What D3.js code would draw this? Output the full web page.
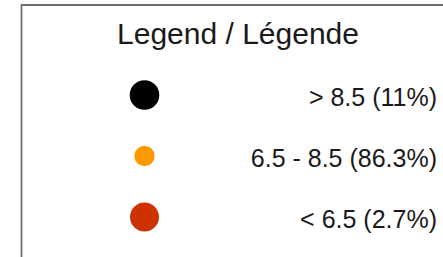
<!DOCTYPE html>
<html>
<head>
<meta charset="utf-8">
<script src="https://cdn.jsdelivr.net/npm/d3@7"></script>
<style>
  body { margin: 0; background: #fff; }
  svg { display: block; }
  text { font-family: "Liberation Sans", Arial, Helvetica, sans-serif; fill: #1a1a1a; }
</style>
</head>
<body>
<svg width="443" height="257"></svg>
<script>
// legend classes and their share of the total
let classes = ["> 8.5", "6.5 - 8.5", "< 6.5"];
let shares = [11, 86.3, 2.7];
let title = "Legend / Légende";

let w = 443;
let h = 257;

let svg = d3.select("svg");

let info = classes.map((c, i) => ({ cls: c, share: shares[i] }));

let yScale = d3.scalePoint()
                .domain(classes)
                .range([95, 217]);

let colour = d3.scaleOrdinal()
                .domain(classes)
                .range(["#000000", "#ff9900", "#cc3300"]);

let radius = d3.scaleOrdinal()
                .domain(classes)
                .range([14.8, 10.2, 14.5]);

// frame (only top and left edges show inside the window)
svg.append("path")
        .attr("d", "M21.5," + h + "V5H" + w)
        .attr("fill", "none")
        .attr("stroke", "#6e6e6e")
        .attr("stroke-width", 1.8);

svg.append("text")
        .attr("x", 238)
        .attr("y", 43.5)
        .attr("text-anchor", "middle")
        .style("font-size", "30px")
        .text(title);

let rows = svg.selectAll("g.row")
        .data(info)
        .enter()
        .append("g")
        .attr("class", "row")
        .attr("transform", (d) => "translate(0," + yScale(d.cls) + ")");

rows.append("circle")
        .attr("cx", 144.5)
        .attr("cy", 0)
        .attr("r", (d) => radius(d.cls))
        .attr("fill", (d) => colour(d.cls));

rows.append("text")
        .attr("x", 437)
        .attr("y", 11)
        .attr("text-anchor", "end")
        .style("font-size", "25px")
        .text((d) => d.cls + " (" + d.share + "%)");
</script>
</body>
</html>
